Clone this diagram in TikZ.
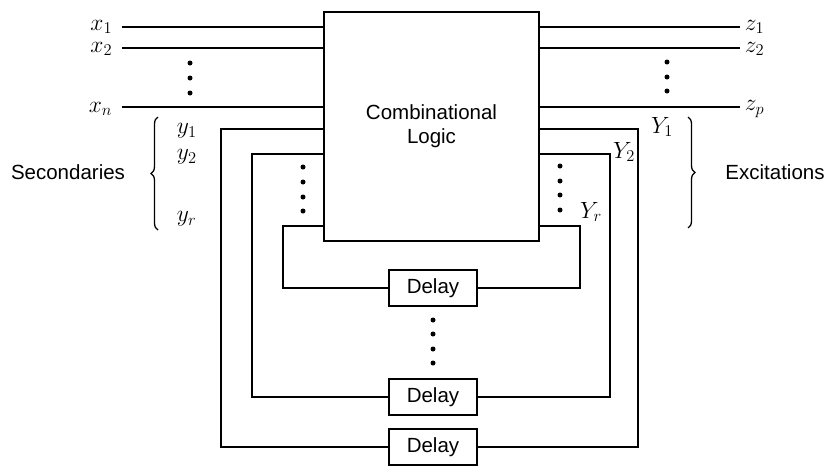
\RequirePackage{fix-cm}
\documentclass[tikz,border=0pt]{standalone}
\usepackage{fontspec}
\setsansfont{Liberation Sans}
\usetikzlibrary{positioning,decorations.pathreplacing}

\begin{document}
\begin{tikzpicture}[x=1pt,y=-1pt,line width=1.8pt,
  every node/.style={font=\sffamily\fontsize{20.5}{24}\selectfont},
  block/.style={draw,inner sep=0pt,minimum width=88pt,minimum height=36pt},
  sig/.style={font=\fontsize{23.5}{28}\selectfont,inner sep=1pt},
  dot/.style={circle,fill,inner sep=0pt,minimum size=5pt},
  brc/.style={decorate,decoration={brace,amplitude=7pt},line width=1.3pt}]
  \useasboundingbox (0,0) rectangle (830,466);
  \node[draw,minimum width=215pt,minimum height=229pt,align=center] (logic) at (431.5,126.5) {Combinational\\Logic};
  \node[block] (d1) at (433,288) {Delay};
  \node[block] (d2) at (433,397) {Delay};
  \node[block] (d3) at (433,447) {Delay};
  % inputs and outputs
  \node[sig,anchor=east] (x1) at (114,27) {$x_1$};
  \node[sig,anchor=east] (x2) at (114,49) {$x_2$};
  \node[sig,anchor=east] (xn) at (114,109) {$x_n$};
  \draw (122,27) -- (logic.west |- 0,27);
  \draw (122,48) -- (logic.west |- 0,48);
  \draw (122,107) -- (logic.west |- 0,107);
  \node[sig,anchor=west] (z1) at (743,27) {$z_1$};
  \node[sig,anchor=west] (z2) at (743,49) {$z_2$};
  \node[sig,anchor=west] (zp) at (743,109) {$z_p$};
  \draw (740,27) -- (logic.east |- 0,27);
  \draw (740,48) -- (logic.east |- 0,48);
  \draw (740,107) -- (logic.east |- 0,107);
  % feedback loops
  \draw (d3.west) -| (221,129) -- (logic.west |- 221,129);
  \draw (d3.east) -| (638,129) -- (logic.east |- 638,129);
  \draw (d2.west) -| (252,154) -- (logic.west |- 252,154);
  \draw (d2.east) -| (610,154) -- (logic.east |- 610,154);
  \draw (d1.west) -| (283,226) -- (logic.west |- 283,226);
  \draw (d1.east) -| (580,226) -- (logic.east |- 580,226);
  % secondaries and excitations
  \node[sig,anchor=west] (y1) at (175,131) {$y_1$};
  \node[sig,anchor=west] (y2) at (175,157) {$y_2$};
  \node[sig,anchor=west] (yr) at (175,219) {$y_r$};
  \node[sig] (Y1) at (662,127) {$Y_1$};
  \node[sig] (Y2) at (624,152) {$Y_2$};
  \node[sig] (Yr) at (591,212) {$Y_r$};
  \draw[brc] (158,230) -- (158,117);
  \draw[brc] (688,117) -- (688,228);
  \node (sec) at (68,172) {Secondaries};
  \node (exc) at (775,172) {Excitations};
  % dots
  \foreach \y in {63,78,93} \node[dot] (din\y) at (190,\y) {};
  \foreach \y in {62,77,91} \node[dot] (dout\y) at (667,\y) {};
  \foreach \y in {167,182,197,211} \node[dot] (dl\y) at (303,\y) {};
  \foreach \y in {166,181,195,210} \node[dot] (dr\y) at (560,\y) {};
  \foreach \y in {320,334,349,363} \node[dot] (dm\y) at (433,\y) {};
\end{tikzpicture}
\end{document}
